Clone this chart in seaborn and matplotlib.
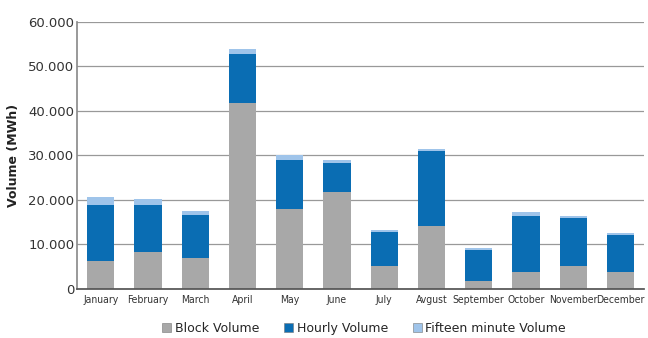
import matplotlib
matplotlib.use("Agg")
import matplotlib.pyplot as plt
import seaborn as sns
import pandas as pd
import numpy as np
from matplotlib.patches import Patch
from matplotlib.ticker import FuncFormatter

months = ["January", "February", "March", "April", "May", "June", "July",
          "Avgust", "September", "October", "November", "December"]
block = [6.4, 8.4, 6.9, 41.7, 18.0, 21.9, 5.2, 14.2, 1.8, 3.9, 5.2, 3.9]
hourly = [12.5, 10.5, 9.7, 11.0, 11.0, 6.3, 7.5, 16.7, 7.0, 12.5, 10.7, 8.2]
fifteen = [1.7, 1.3, 1.0, 1.2, 1.0, 0.8, 0.6, 0.6, 0.5, 1.0, 0.4, 0.4]
block = [v * 1000 for v in block]
hourly = [v * 1000 for v in hourly]
fifteen = [v * 1000 for v in fifteen]

names = ["Block Volume", "Hourly Volume", "Fifteen minute Volume"]
colors = ["#a8a8a8", "#0a6db3", "#9fc4ea"]

sns.set_theme(style="white")
plt.rcParams['font.family'] = ['DejaVu Sans']

fig = plt.figure(figsize=(6.48, 3.38), dpi=100)
ax = fig.add_axes([0.119, 0.145, 0.875, 0.79])

b = np.array(block)
h = b + np.array(hourly)
f = h + np.array(fifteen)
layers = [(f, colors[2]), (h, colors[1]), (b, colors[0])]
for vals, col in layers:
    df = pd.DataFrame({"month": months, "value": vals})
    sns.barplot(data=df, x="month", y="value", color=col, width=0.58,
                saturation=1, ax=ax, edgecolor="none", linewidth=0)

ax.set_ylim(0, 60000)
ax.set_xlim(-0.5, 11.5)
ax.set_yticks(np.arange(0, 60001, 10000))
ax.yaxis.set_major_formatter(FuncFormatter(lambda v, p: "0" if v == 0 else f"{int(v):,}".replace(",", ".")))
ax.grid(axis="y", color="#999999", linewidth=0.9)
ax.set_axisbelow(True)
for s in ["top", "right"]:
    ax.spines[s].set_visible(False)
ax.spines["left"].set_color("#8c8c8c")
ax.spines["bottom"].set_color("#555555")
ax.set_xlabel("")
ax.set_ylabel("Volume (MWh)", fontsize=9, fontweight="bold", color="#222222", labelpad=6)
ax.tick_params(axis="y", labelsize=9.5, colors="#333333", length=0, pad=2)
ax.tick_params(axis="x", labelsize=7.5, colors="#333333", length=0, pad=4)
for lbl in ax.get_xticklabels():
    lbl.set_fontstretch("condensed")
    lbl.set_family("Liberation Sans Narrow")

handles = [Patch(facecolor=c, edgecolor="#777777", linewidth=0.4, label=n) for n, c in zip(names, colors)]
fig.legend(handles=handles, loc="center", bbox_to_anchor=(0.562, 0.028), ncol=3, frameon=False,
           fontsize=9, handlelength=0.7, handleheight=0.7, handletextpad=0.3, columnspacing=2.0)

fig.savefig("out.png", dpi=100)
